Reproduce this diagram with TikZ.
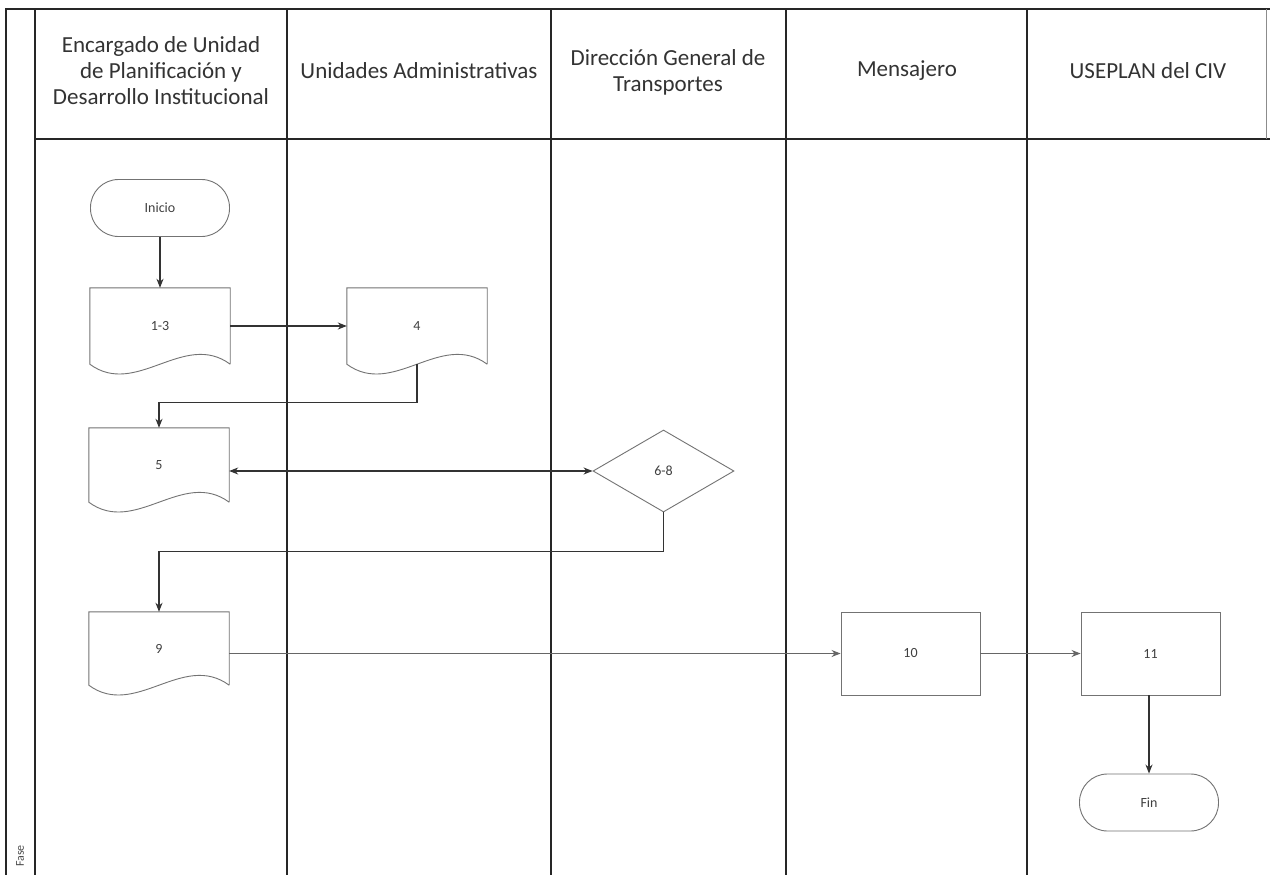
\documentclass[tikz,border=0pt]{standalone}
\usepackage{fontspec}
\setmainfont{Carlito}
\usetikzlibrary{arrows.meta,shapes.geometric,calc}
\newcommand\docpath[1]{\draw[shapeline] (#1.south east) -- (#1.north east) -- (#1.north west) -- (#1.south west)
  .. controls ($(#1.south west)!0.33!(#1.south east)+(0,34)$) and ($(#1.south west)!0.67!(#1.south east)+(0,-34)$) .. (#1.south east);}
\begin{document}
\begin{tikzpicture}[x=1pt,y=-1pt,
  lane/.style={draw=black!85, line width=1.4pt},
  shapeline/.style={draw=black!55, line width=0.9pt},
  conn/.style={draw=black!80, line width=1.2pt, -{Stealth[length=9pt,width=7pt]}},
  thinconn/.style={draw=black!60, line width=0.9pt, -{Stealth[length=9pt,width=7pt]}},
  hdr/.style={font=\fontsize{23}{26}\selectfont, align=center, text=black!80},
  lbl/.style={font=\fontsize{14}{16}\selectfont, text=black!75},
  docnode/.style={rectangle, draw=none, minimum width=140pt, inner sep=0pt, lbl},
  procnode/.style={rectangle, shapeline, minimum width=139pt, minimum height=83pt, inner sep=0pt, lbl},
  termnode/.style={rectangle, shapeline, rounded corners=28pt, minimum width=139pt, minimum height=57pt, inner sep=0pt, lbl},
  decnode/.style={diamond, shapeline, minimum width=141pt, minimum height=82pt, inner sep=0pt, lbl}
]
\useasboundingbox (0,0) rectangle (1270,875);
\fill[white] (0,0) rectangle (1270,875);
% frame and lanes
\draw[lane] (5,9) -- (1270,9);
\draw[lane] (6,9) -- (6,875);
\draw[lane] (35,9) -- (35,875);
\draw[lane] (35,139) -- (1270,139);
\draw[lane] (287,9) -- (287,875);
\draw[lane] (551,9) -- (551,875);
\draw[lane] (786,9) -- (786,875);
\draw[lane] (1027,9) -- (1027,875);
\draw[draw=black!45, line width=1pt] (1266,9) -- (1266,139);
% headers
\node[hdr] (h1) at (161,71) {Encargado de Unidad\\de Planificación y\\Desarrollo Institucional};
\node[hdr] (h2) at (419,71) {Unidades Administrativas};
\node[hdr] (h3) at (668,72) {Dirección General de\\Transportes};
\node[hdr] (h4) at (907,71) {Mensajero};
\node[hdr] (h5) at (1148,71) {USEPLAN del CIV};
\node[font=\fontsize{12}{13}\selectfont, rotate=90, text=black!70] (fase) at (20,856) {Fase};
% nodes
\node[termnode] (start) at (160,208) {Inicio};
\node[docnode, minimum height=76pt] (d13) at (160,326) {1-3};
\docpath{d13}
\node[docnode, minimum height=76pt] (d4) at (417,326) {4};
\docpath{d4}
\node[docnode, minimum height=74pt] (d5) at (159,465) {5};
\docpath{d5}
\node[decnode] (dec) at (663.5,471) {6-8};
\node[docnode, minimum height=73pt] (d9) at (159,648.5) {9};
\docpath{d9}
\node[procnode] (p10) at (910.5,653.5) {10};
\node[procnode] (p11) at (1150.5,653.5) {11};
\node[termnode] (fin) at (1149,802.5) {Fin};
% connectors
\draw[conn] (start) -- (d13);
\draw[conn] (d13.east) -- (d4.west);
\draw[conn] (d4.south) -- ++(0,38) -| (d5.north);
\draw[conn, {Stealth[length=9pt,width=7pt]}-{Stealth[length=9pt,width=7pt]}] (dec.west -| d5.east) -- (dec.west);
\draw[conn] (dec.south) -- ++(0,39) -| (d9.north);
\draw[thinconn] (p10.west -| d9.east) -- (p10.west);
\draw[thinconn] (p10.east) -- (p11.west);
\draw[conn] (p11.south -| fin.north) -- (fin.north);
\end{tikzpicture}
\end{document}
